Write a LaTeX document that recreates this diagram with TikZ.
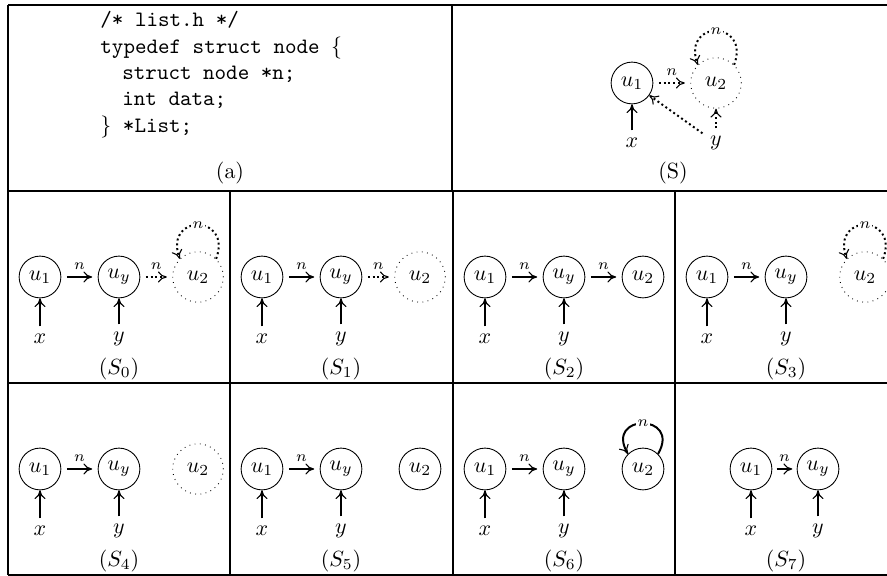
\documentclass[tikz,border=0pt]{standalone}
\usetikzlibrary{arrows.meta}
\begin{document}
\begin{tikzpicture}[x=0.455pt,y=0.455pt,
    obj/.style = {circle, draw, line width=0.4pt,
        minimum size = 19pt, inner sep=0pt},
    sum/.style = {circle, draw, dotted, line width=0.4pt,
        minimum size = 23pt, inner sep=0pt},
    ptr/.style = {line width=0.9pt,
        -{To[line width=0.5pt, length=4pt, width=5pt]}},
    mayptr/.style = {ptr, dash pattern=on 0.9pt off 1.3pt},
    link/.style = {shorten <=2.5pt, shorten >=2.5pt},
    nlab/.style = {font=\scriptsize, inner sep=1pt, above=2pt},
    looplab/.style = {font=\scriptsize, inner sep=0.5pt, fill=white},
    rule/.style = {line width=1pt}]

\useasboundingbox (0,0) rectangle (887,576);
\clip (0,0) rectangle (887,576);

% Table lines
\draw[rule] (8,571) -- (887,571);
\draw[rule] (8,385) -- (887,385);
\draw[rule] (8,193) -- (887,193);
\draw[rule] (8,1) -- (887,1);
\draw[rule] (8,1) -- (8,571);
\draw[rule] (452,385) -- (452,571);
\draw[rule] (230,1) -- (230,385);
\draw[rule] (453,1) -- (453,385);
\draw[rule] (675,1) -- (675,385);

% (a)
\node[anchor=north west, align=left, font=\ttfamily, inner sep=0pt] (code) at (100,565)
    {/* list.h */\\
     typedef struct node $\{$\\
     \hspace*{1em}struct node *n;\\
     \hspace*{1em}int data;\\
     $\}$ *List;};
\node (acap) at (230,403) {(a)};

% (S)
\node[obj] (su1) at (632,493) {$u_1$};
\node[sum] (su2) at (716,493) {$u_2$};
\node (sx) at (632,433) {$x$};
\node (sy) at (716,433) {$y$};
\draw[ptr] (sx) -- (su1);
\draw[mayptr,link] (su1) -- node[nlab] {$n$} (su2);
\draw[mayptr] (sy) -- (su1);
\draw[mayptr] (sy) -- (su2);
\draw[mayptr] (su2.45) to[out=70,in=110,looseness=3.4] node[looplab] {$n$} (su2.135);
\node (scap) at (673,403) {(S)};

% S_0
\node[obj] (s0u1) at (40,299) {$u_1$};
\node[obj] (s0uy) at (119,299) {$u_y$};
\node[sum] (s0u2) at (198,299) {$u_2$};
\node (s0x) at (40,237) {$x$};
\node (s0y) at (119,237) {$y$};
\draw[ptr] (s0x) -- (s0u1);
\draw[ptr] (s0y) -- (s0uy);
\draw[ptr,link] (s0u1) -- node[nlab] {$n$} (s0uy);
\draw[mayptr,link] (s0uy) -- node[nlab] {$n$} (s0u2);
\draw[mayptr] (s0u2.45) to[out=70,in=110,looseness=3.4] node[looplab] {$n$} (s0u2.135);
\node (s0cap) at (119,207) {$(S_0)$};

% S_1
\node[obj] (s1u1) at (262,299) {$u_1$};
\node[obj] (s1uy) at (341,299) {$u_y$};
\node[sum] (s1u2) at (420,299) {$u_2$};
\node (s1x) at (262,237) {$x$};
\node (s1y) at (341,237) {$y$};
\draw[ptr] (s1x) -- (s1u1);
\draw[ptr] (s1y) -- (s1uy);
\draw[ptr,link] (s1u1) -- node[nlab] {$n$} (s1uy);
\draw[mayptr,link] (s1uy) -- node[nlab] {$n$} (s1u2);
\node (s1cap) at (341,207) {$(S_1)$};

% S_2
\node[obj] (s2u1) at (485,299) {$u_1$};
\node[obj] (s2uy) at (564,299) {$u_y$};
\node[obj] (s2u2) at (643,299) {$u_2$};
\node (s2x) at (485,237) {$x$};
\node (s2y) at (564,237) {$y$};
\draw[ptr] (s2x) -- (s2u1);
\draw[ptr] (s2y) -- (s2uy);
\draw[ptr,link] (s2u1) -- node[nlab] {$n$} (s2uy);
\draw[ptr,link] (s2uy) -- node[nlab] {$n$} (s2u2);
\node (s2cap) at (564,207) {$(S_2)$};

% S_3
\node[obj] (s3u1) at (707,299) {$u_1$};
\node[obj] (s3uy) at (786,299) {$u_y$};
\node[sum] (s3u2) at (865,299) {$u_2$};
\node (s3x) at (707,237) {$x$};
\node (s3y) at (786,237) {$y$};
\draw[ptr] (s3x) -- (s3u1);
\draw[ptr] (s3y) -- (s3uy);
\draw[ptr,link] (s3u1) -- node[nlab] {$n$} (s3uy);
\draw[mayptr] (s3u2.45) to[out=70,in=110,looseness=3.4] node[looplab] {$n$} (s3u2.135);
\node (s3cap) at (786,207) {$(S_3)$};

% S_4
\node[obj] (s4u1) at (40,107) {$u_1$};
\node[obj] (s4uy) at (119,107) {$u_y$};
\node[sum] (s4u2) at (198,107) {$u_2$};
\node (s4x) at (40,45) {$x$};
\node (s4y) at (119,45) {$y$};
\draw[ptr] (s4x) -- (s4u1);
\draw[ptr] (s4y) -- (s4uy);
\draw[ptr,link] (s4u1) -- node[nlab] {$n$} (s4uy);
\node (s4cap) at (119,15) {$(S_4)$};

% S_5
\node[obj] (s5u1) at (262,107) {$u_1$};
\node[obj] (s5uy) at (341,107) {$u_y$};
\node[obj] (s5u2) at (420,107) {$u_2$};
\node (s5x) at (262,45) {$x$};
\node (s5y) at (341,45) {$y$};
\draw[ptr] (s5x) -- (s5u1);
\draw[ptr] (s5y) -- (s5uy);
\draw[ptr,link] (s5u1) -- node[nlab] {$n$} (s5uy);
\node (s5cap) at (341,15) {$(S_5)$};

% S_6
\node[obj] (s6u1) at (485,107) {$u_1$};
\node[obj] (s6uy) at (564,107) {$u_y$};
\node[obj] (s6u2) at (643,107) {$u_2$};
\node (s6x) at (485,45) {$x$};
\node (s6y) at (564,45) {$y$};
\draw[ptr] (s6x) -- (s6u1);
\draw[ptr] (s6y) -- (s6uy);
\draw[ptr,link] (s6u1) -- node[nlab] {$n$} (s6uy);
\draw[ptr] (s6u2.45) to[out=60,in=120,looseness=4] node[looplab] {$n$} (s6u2.135);
\node (s6cap) at (564,15) {$(S_6)$};

% S_7
\node[obj] (s7u1) at (751,107) {$u_1$};
\node[obj] (s7uy) at (818,107) {$u_y$};
\node (s7x) at (751,45) {$x$};
\node (s7y) at (818,45) {$y$};
\draw[ptr] (s7x) -- (s7u1);
\draw[ptr] (s7y) -- (s7uy);
\draw[ptr,shorten <=2pt,shorten >=2pt] (s7u1) -- node[nlab] {$n$} (s7uy);
\node (s7cap) at (786,15) {$(S_7)$};
\end{tikzpicture}
\end{document}
